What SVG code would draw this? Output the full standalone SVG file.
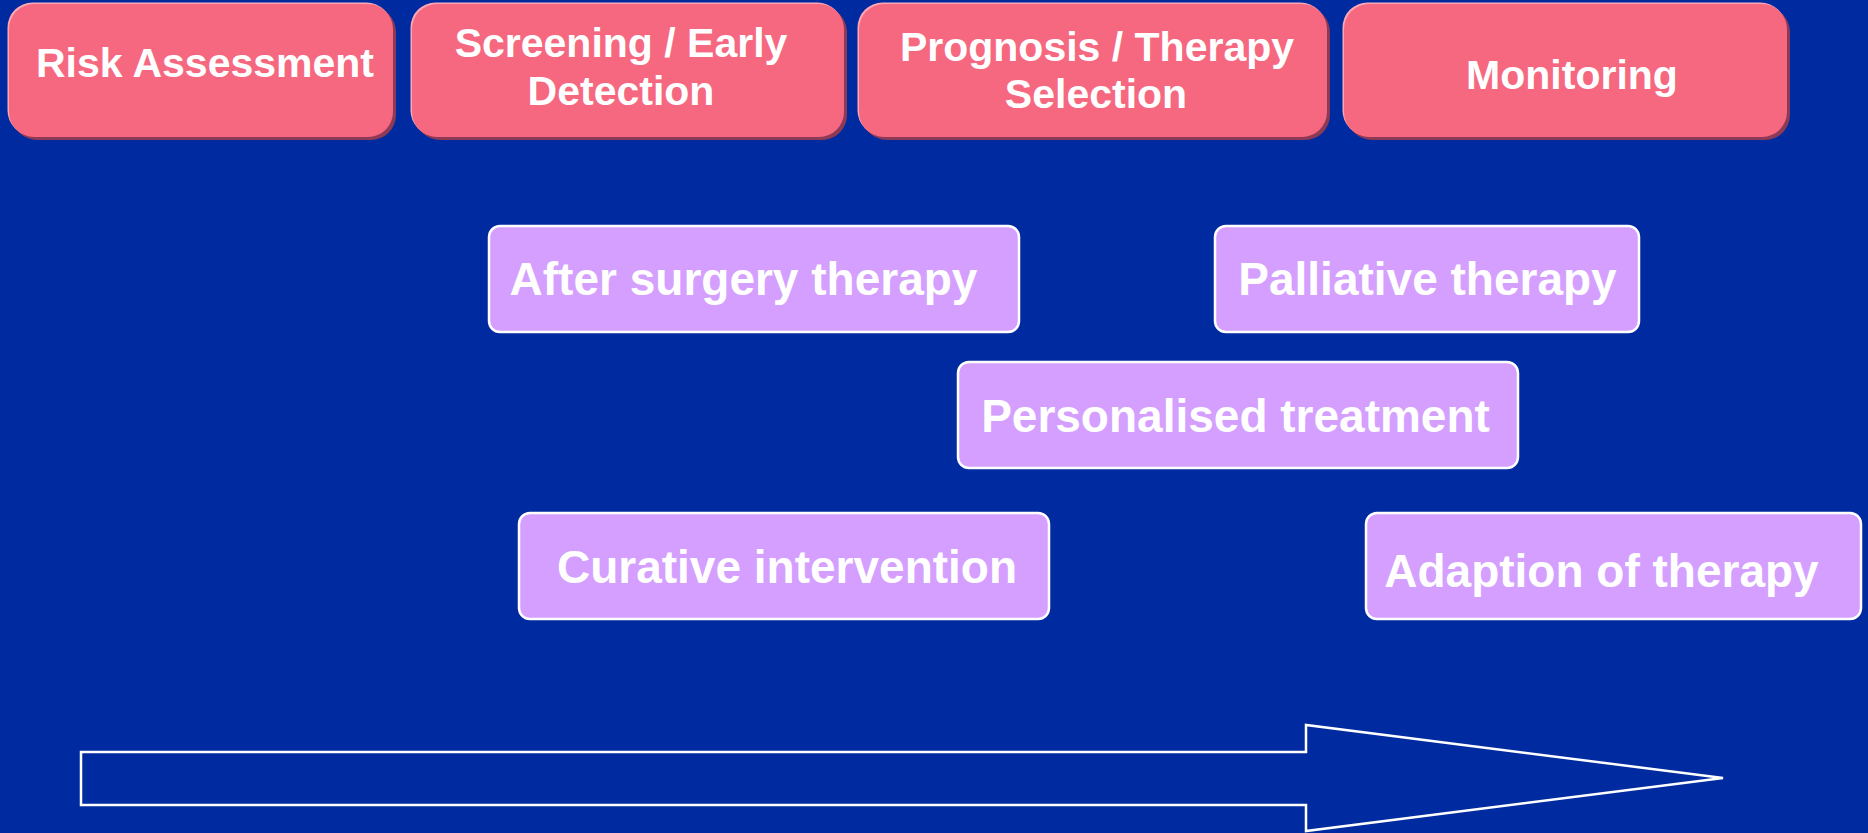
<svg xmlns="http://www.w3.org/2000/svg" width="1868" height="833" viewBox="0 0 1868 833">
  <style>
    .phase-shadow { fill: #8C3A55; }
    .phase-light { fill: #FBA7B6; }
    .phase-body { fill: #F6687F; }
    .phase-text { font-family: "Liberation Sans", Arial, sans-serif; font-weight: bold; font-size: 41px; fill: #FFFFFF; text-anchor: middle; }
    .step-box { fill: #D49FFE; stroke: #FFFFFF; stroke-width: 2.5; }
    .step-text { font-family: "Liberation Sans", Arial, sans-serif; font-weight: bold; font-size: 46px; fill: #FFFFFF; text-anchor: middle; }
    .timeline { fill: none; stroke: #FFFFFF; stroke-width: 2.5; stroke-linejoin: miter; }
  </style>

  <!-- background -->
  <rect x="0" y="0" width="1868" height="833" fill="#002A9F"/>

  <!-- phase headers (raised pink buttons) -->
  <g id="risk-assessment">
    <rect class="phase-shadow" x="12" y="7" width="384" height="133" rx="25"/>
    <rect class="phase-light" x="7.5" y="2.5" width="384" height="133" rx="25"/>
    <rect class="phase-body" x="9" y="4" width="384" height="133" rx="25"/>
    <text class="phase-text" x="205" y="77">Risk Assessment</text>
  </g>

  <g id="screening">
    <rect class="phase-shadow" x="415" y="7" width="432" height="133" rx="25"/>
    <rect class="phase-light" x="410.5" y="2.5" width="432" height="133" rx="25"/>
    <rect class="phase-body" x="412" y="4" width="432" height="133" rx="25"/>
    <text class="phase-text" x="621" y="57">Screening / Early</text>
    <text class="phase-text" x="621" y="105">Detection</text>
  </g>

  <g id="prognosis">
    <rect class="phase-shadow" x="862" y="7" width="468" height="133" rx="25"/>
    <rect class="phase-light" x="857.5" y="2.5" width="468" height="133" rx="25"/>
    <rect class="phase-body" x="859" y="4" width="468" height="133" rx="25"/>
    <text class="phase-text" x="1097" y="61">Prognosis / Therapy</text>
    <text class="phase-text" x="1096" y="108">Selection</text>
  </g>

  <g id="monitoring">
    <rect class="phase-shadow" x="1347" y="7" width="443" height="133" rx="25"/>
    <rect class="phase-light" x="1342.5" y="2.5" width="443" height="133" rx="25"/>
    <rect class="phase-body" x="1344" y="4" width="443" height="133" rx="25"/>
    <text class="phase-text" x="1572" y="89">Monitoring</text>
  </g>

  <!-- care steps -->
  <g id="after-surgery">
    <rect class="step-box" x="489" y="226" width="530" height="106" rx="11"/>
    <text class="step-text" x="743.5" y="295">After surgery therapy</text>
  </g>

  <g id="palliative">
    <rect class="step-box" x="1215" y="226" width="424" height="106" rx="11"/>
    <text class="step-text" x="1427.5" y="295">Palliative therapy</text>
  </g>

  <g id="personalised">
    <rect class="step-box" x="958" y="362" width="560" height="106" rx="11"/>
    <text class="step-text" x="1235.5" y="432">Personalised treatment</text>
  </g>

  <g id="curative">
    <rect class="step-box" x="519" y="513" width="530" height="106" rx="11"/>
    <text class="step-text" x="787" y="583">Curative intervention</text>
  </g>

  <g id="adaption">
    <rect class="step-box" x="1366" y="513" width="495" height="106" rx="11"/>
    <text class="step-text" x="1601.5" y="587">Adaption of therapy</text>
  </g>

  <!-- time axis -->
  <g id="connectors">
    <polygon class="timeline" points="81,752 1306,752 1306,725 1723,778 1306,831 1306,805 81,805"/>
  </g>
</svg>
